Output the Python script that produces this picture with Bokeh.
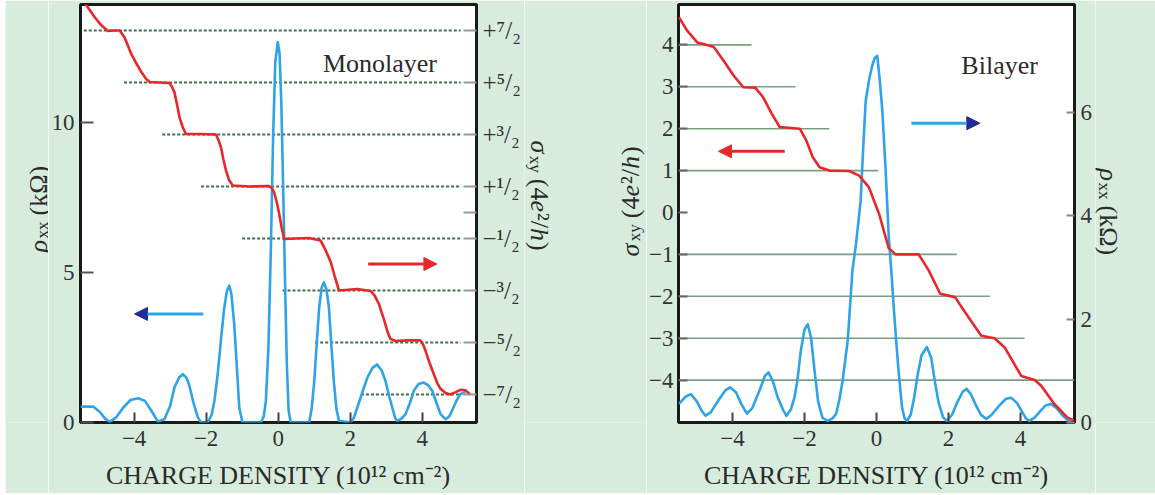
import math
from bokeh.plotting import figure
from bokeh.layouts import row
from bokeh.models import Range1d, LinearAxis, FixedTicker, Label, Arrow, NormalHead
from bokeh.embed import file_html
from bokeh.resources import INLINE

# ---------------- Monolayer ----------------
# rho_xx (kOhm) against carrier density n (10^12 cm^-2)
mono_n_rho = [-5.49, -5.14, -4.95, -4.80, -4.68, -4.50, -4.30, -4.10, -3.89, -3.70, -3.50, -3.34,
              -3.16, -3.00, -2.88, -2.75, -2.65, -2.55, -2.47, -2.35, -2.23, -2.14, -1.96, -1.85,
              -1.77, -1.68, -1.59, -1.50, -1.42, -1.36, -1.30, -1.22, -1.15, -1.08, -0.99, -0.48,
              -0.40, -0.34, -0.27, -0.20, -0.14, -0.08, -0.01, 0.04, 0.09, 0.14, 0.19, 0.24, 0.29,
              0.35, 0.86, 0.93, 1.00, 1.07, 1.14, 1.21, 1.27, 1.34, 1.41, 1.48, 1.55, 1.62, 1.69,
              2.01, 2.10, 2.20, 2.35, 2.48, 2.62, 2.75, 2.87, 2.98, 3.08, 3.17, 3.25, 3.31, 3.42,
              3.54, 3.66, 3.77, 3.90, 4.04, 4.16, 4.28, 4.40, 4.51, 4.65, 4.75, 4.83, 4.95, 5.06, 5.20]
mono_rho = [0.53, 0.53, 0.35, 0.12, 0.02, 0.17, 0.50, 0.75, 0.81, 0.72, 0.35, 0.03,
            0.11, 0.55, 1.17, 1.50, 1.61, 1.50, 1.25, 0.65, 0.17, 0.0, 0.0, 0.25,
            0.72, 1.60, 2.73, 3.80, 4.40, 4.56, 4.30, 3.28, 1.90, 0.50, 0.0, 0.0,
            0.20, 0.72, 2.50, 5.90, 9.50, 12.00, 12.68, 12.30, 10.60, 7.80, 4.80, 2.00, 0.40,
            0.0, 0.0, 0.45, 1.33, 2.60, 3.84, 4.50, 4.67, 4.45, 3.84, 2.55, 1.33, 0.45, 0.06,
            0.0, 0.15, 0.50, 1.05, 1.50, 1.82, 1.93, 1.75, 1.39, 0.90, 0.50, 0.15, 0.06, 0.12,
            0.28, 0.65, 1.06, 1.28, 1.33, 1.25, 1.06, 0.65, 0.28, 0.11, 0.20, 0.39, 0.72, 0.95, 1.00]

# sigma_xy (4e^2/h) against n
mono_n_sig = [-5.36, -5.20, -5.10, -4.91, -4.73, -4.55, -4.40, -4.27, -4.18, -4.08, -3.94, -3.80,
              -3.68, -3.57, -3.30, -3.02, -2.95, -2.88, -2.81, -2.74, -2.65, -2.56, -2.20, -1.73,
              -1.66, -1.59, -1.52, -1.45, -1.36, -1.26, -0.80, -0.25, -0.18, -0.11, -0.04, 0.03,
              0.10, 0.17, 0.50, 0.85, 1.18, 1.30, 1.46, 1.58, 1.69, 2.20, 2.57, 2.68, 2.80, 2.95,
              3.05, 3.12, 3.26, 3.60, 3.95, 4.02, 4.09, 4.20, 4.32, 4.42, 4.51, 4.65, 4.78, 4.92,
              5.06, 5.20, 5.34]
mono_sig = [4.02, 3.86, 3.76, 3.60, 3.49, 3.50, 3.50, 3.37, 3.22, 3.05, 2.87, 2.70,
            2.58, 2.51, 2.50, 2.49, 2.42, 2.31, 2.08, 1.83, 1.64, 1.51, 1.51, 1.50,
            1.40, 1.26, 1.02, 0.81, 0.62, 0.52, 0.50, 0.51, 0.47, 0.39, 0.20, -0.03,
            -0.30, -0.51, -0.50, -0.49, -0.54, -0.70, -0.95, -1.25, -1.50, -1.47, -1.51, -1.60, -1.76, -2.08,
            -2.32, -2.43, -2.47, -2.46, -2.46, -2.53, -2.65, -2.88, -3.10, -3.28, -3.39, -3.47, -3.50, -3.46,
            -3.41, -3.42, -3.50]

mono_levels = [3.5, 2.5, 1.5, 0.5, -0.5, -1.5, -2.5, -3.5]
mono_level_start = [-5.40, -4.28, -3.22, -2.14, -1.00, 0.12, 1.03, 2.30]
mono_level_end = [5.07] * 8

mono_rho_ticks = [0, 5, 10]
mono_rho_labels = ["0", "5", "10"]
mono_sig_ticks = [3.5, 2.5, 1.5, 0.5, 0, -0.5, -1.5, -2.5, -3.5]
mono_sig_labels = ["+⁷/₂", "+⁵/₂", "+³/₂", "+¹/₂", "", "−¹/₂", "−³/₂", "−⁵/₂", "−⁷/₂"]

# ---------------- Bilayer ----------------
bi_n_rho = [-5.49, -5.30, -5.16, -5.00, -4.85, -4.75, -4.60, -4.40, -4.20, -4.06, -3.90, -3.75,
            -3.60, -3.45, -3.25, -3.10, -3.00, -2.88, -2.75, -2.60, -2.50, -2.38, -2.28, -2.20,
            -2.10, -2.00, -1.91, -1.82, -1.72, -1.62, -1.50, -1.36, -1.22, -1.12, -1.03, -0.94,
            -0.87, -0.80, -0.73, -0.67, -0.57, -0.50, -0.44, -0.37, -0.30, -0.20, -0.12, -0.05,
            0.02, 0.08, 0.16, 0.25, 0.34, 0.42, 0.48, 0.55, 0.62, 0.71, 0.78, 0.85, 0.95, 1.05,
            1.15, 1.25, 1.40, 1.52, 1.62, 1.72, 1.85, 1.95, 2.10, 2.25, 2.40, 2.50, 2.62, 2.75,
            2.90, 3.05, 3.20, 3.40, 3.60, 3.74, 3.90, 4.05, 4.15, 4.25, 4.40, 4.55, 4.70, 4.84,
            5.00, 5.15, 5.30, 5.40]
bi_rho = [0.36, 0.50, 0.55, 0.42, 0.22, 0.13, 0.20, 0.42, 0.62, 0.68, 0.58, 0.35,
          0.17, 0.28, 0.62, 0.90, 0.97, 0.80, 0.50, 0.25, 0.13, 0.25, 0.48, 0.80,
          1.40, 1.80, 1.90, 1.65, 1.00, 0.40, 0.09, 0.03, 0.08, 0.17, 0.45, 0.81,
          1.20, 1.58, 2.30, 2.93, 3.45, 3.90, 4.29, 5.30, 6.22, 6.65, 6.90, 7.05,
          7.09, 6.70, 6.05, 4.93, 3.60, 2.85, 2.22, 1.55, 0.94, 0.29, 0.08, 0.03, 0.15, 0.50,
          0.95, 1.30, 1.46, 1.25, 0.80, 0.40, 0.10, 0.03, 0.15, 0.40, 0.60, 0.65, 0.55, 0.35,
          0.15, 0.07, 0.15, 0.32, 0.46, 0.48, 0.38, 0.20, 0.08, 0.03, 0.10, 0.22, 0.33, 0.36,
          0.28, 0.15, 0.05, 0.03]

bi_n_sig = [-5.49, -5.26, -4.98, -4.80, -4.52, -4.25, -3.97, -3.70, -3.37, -3.15, -2.91, -2.69,
            -2.13, -1.95, -1.77, -1.58, -1.31, -0.76, -0.48, -0.21, 0.07, 0.34, 0.53, 1.17,
            1.45, 1.77, 2.18, 2.46, 2.91, 3.28, 3.56, 4.02, 4.39, 4.57, 4.94, 5.30, 5.48]
bi_sig = [4.66, 4.34, 4.06, 4.02, 3.95, 3.63, 3.27, 2.99, 2.98, 2.75, 2.36, 2.04,
          2.00, 1.72, 1.32, 1.08, 1.00, 0.99, 0.88, 0.60, -0.03, -0.85, -1.00, -1.00,
          -1.38, -1.94, -2.02, -2.38, -2.94, -3.00, -3.22, -3.90, -4.00, -4.13, -4.57, -4.89, -4.96]

bi_levels = [4, 3, 2, 1, -1, -2, -3, -4]
bi_level_start = [-5.5] * 8
bi_level_end = [-3.47, -2.25, -1.31, 0.05, 2.23, 3.15, 4.11, 5.5]

bi_sig_ticks = [4, 3, 2, 1, 0, -1, -2, -3, -4]
bi_sig_labels = ["4", "3", "2", "1", "0", "−1", "−2", "−3", "−4"]
bi_rho_ticks = [0, 2, 4, 6]
bi_rho_labels = ["0", "2", "4", "6"]

n_ticks = [-4, -2, 0, 2, 4]
n_labels = ["−4", "−2", "0", "2", "4"]
n_title = "CHARGE DENSITY (10¹² cm⁻²)"

# ---------------- styling ----------------
BG = "#d7ecdd"
RED = "#e8272b"
BLUE = "#2ea3e6"
NAVY = "#1f2c99"
DASH_GREEN = "#3f6e4a"
LINE_GREEN = "#789f80"
INK = "#2a2a2a"
SERIF = "Liberation Serif"
H = 493                    # height of the green panel

TOP, BOT = 4, 422          # frame top/bottom (page px)
L_X0, L_X1 = 79, 476       # monolayer frame left/right
R_X0, R_X1 = 678, 1077     # bilayer frame left/right
L_XR = (-5.49, 5.51)
R_XR = (-5.5, 5.5)
L_RHO = (0.0, (BOT - TOP) / 30.0)
L_SIG = ((212 - BOT) / 52.0, (212 - TOP) / 52.0)
R_SIG = ((212 - BOT) / 41.9, (212 - TOP) / 41.9)
R_RHO = (0.0, (BOT - TOP) / 51.7)

# column boundaries of the row (page px)
C0, C1, C2, C3, C4, C5 = 5, 48, 524, 646, 1095, 1155


def px_to_data(px, py, x0, x1, xr, yr):
    x = xr[0] + (px - x0) * (xr[1] - xr[0]) / (x1 - x0)
    y = yr[0] + (BOT - py) * (yr[1] - yr[0]) / (BOT - TOP)
    return x, y


def style_axis(ax, ticks, labels, tick_in, tick_color, size="23px", standoff=6):
    ax.ticker = FixedTicker(ticks=ticks)
    ax.major_label_overrides = {float(t): l for t, l in zip(ticks, labels)}
    ax.axis_line_color = None
    ax.major_tick_in = tick_in
    ax.major_tick_out = 0
    ax.major_tick_line_color = tick_color
    ax.major_tick_line_width = 2
    ax.minor_tick_line_color = None
    ax.major_label_text_font = SERIF
    ax.major_label_text_font_size = size
    ax.major_label_text_color = "#333333"
    ax.major_label_standoff = standoff


def style_xaxis(ax):
    style_axis(ax, n_ticks, n_labels, 10, "#444444", standoff=8)
    ax.axis_label = n_title
    ax.axis_label_text_font = SERIF
    ax.axis_label_text_font_size = "26px"
    ax.axis_label_text_font_style = "normal"
    ax.axis_label_text_color = INK
    ax.axis_label_standoff = 12


# advance widths (em) for the serif face
W = {"(": .333, ")": .333, "4": .5, "k": .5, "Ω": .768, "/": .278, "²": .3,
     "x": .5, "y": .5, "h": .5, "e": .444, "ρ": .5, "σ": .55}


def rich_text(fig, pieces, px, py, upward):
    """Lay out rotated pieces (text, size, italic, rise, gap) one after another."""
    adv = 0.0
    angle = math.pi / 2 if upward else -math.pi / 2
    for text, size, italic, rise, gap in pieces:
        adv += gap
        if upward:
            sx, sy = px - rise, py - adv
        else:
            sx, sy = px + rise, py + adv
        fig.add_layout(Label(x=sx, y=-sy, text=text, angle=angle, text_font=SERIF,
                             text_font_size=f"{size}px",
                             text_font_style="italic" if italic else "normal",
                             text_color=INK, text_align="left", text_baseline="alphabetic"))
        adv += sum(W.get(c, .5) for c in text) * size


def text_panel(x0, x1, margin=(0, 0, 0, 0)):
    """A bare green strip; the row aligns its frame with the plot frames,
    so x is page pixels and y is minus the page pixel row."""
    t = figure(width=x1 - x0, height=H, x_range=Range1d(x0, x1), y_range=Range1d(-BOT, -TOP),
               output_backend="svg", toolbar_location=None, x_axis_type=None,
               y_axis_type=None, min_border_left=0, min_border_right=0, min_border_top=TOP,
               min_border_bottom=H - BOT, margin=margin)
    t.background_fill_color = BG
    t.border_fill_color = BG
    t.outline_line_color = None
    return t


def base_figure(x0, x1, fx0, fx1, xr, yr):
    p = figure(width=x1 - x0, height=H, x_range=Range1d(*xr), y_range=Range1d(*yr),
               output_backend="svg", toolbar_location=None,
               min_border_left=fx0 - x0, min_border_right=x1 - fx1, min_border_top=TOP,
               min_border_bottom=H - BOT)
    p.background_fill_color = "white"
    p.border_fill_color = BG
    p.outline_line_color = "#1a1a1a"
    p.outline_line_width = 3
    p.grid.visible = False
    return p


SIGMA_PIECES = [("σ", 26, True, 0, 0), ("xy", 17, False, -4, 1), ("(4", 26, False, 0, 6),
                ("e", 26, True, 0, 0), ("²", 26, False, 0, 1), ("/", 26, False, 0, 0),
                ("h", 26, True, 0, 0), (")", 26, False, 0, 1)]
RHO_PIECES = [("ρ", 26, True, 0, 0), ("xx", 17, False, -4, 1), ("(kΩ)", 26, False, 0, 6)]

# ---------------- monolayer panel ----------------
p1 = base_figure(C1, C2, L_X0, L_X1, L_XR, L_RHO)
p1.extra_y_ranges = {"sig": Range1d(*L_SIG)}
style_xaxis(p1.xaxis[0])
style_axis(p1.yaxis[0], mono_rho_ticks, mono_rho_labels, 13, "#555555")
ax_r1 = LinearAxis(y_range_name="sig")
style_axis(ax_r1, mono_sig_ticks, mono_sig_labels, 13, "#9a9a9a", size="25px")
p1.add_layout(ax_r1, "right")

p1.segment(x0=mono_level_start, y0=mono_levels, x1=mono_level_end, y1=mono_levels,
           y_range_name="sig", line_color=DASH_GREEN, line_width=2, line_dash="3 2")
p1.line(mono_n_rho, mono_rho, line_color=BLUE, line_width=2.6, line_join="round")
p1.line(mono_n_sig, mono_sig, y_range_name="sig", line_color=RED, line_width=2.6,
        line_join="round")

p1.add_layout(Arrow(end=NormalHead(size=13, fill_color=NAVY, line_color=NAVY),
                    x_start=-2.08, y_start=3.62, x_end=-3.99, y_end=3.62,
                    line_color=BLUE, line_width=3))
p1.add_layout(Arrow(end=NormalHead(size=13, fill_color=RED, line_color=RED),
                    x_start=2.50, y_start=-0.99, x_end=4.41, y_end=-0.99,
                    y_range_name="sig", line_color=RED, line_width=3))

x, y = px_to_data(322, 63, L_X0, L_X1, L_XR, L_RHO)
p1.add_layout(Label(x=x, y=y, text="Monolayer", text_font=SERIF, text_font_size="26px",
                    text_color=INK, text_baseline="alphabetic"))

# ---------------- bilayer panel ----------------
p2 = base_figure(C3, C4, R_X0, R_X1, R_XR, R_SIG)
p2.extra_y_ranges = {"rho": Range1d(*R_RHO)}
style_xaxis(p2.xaxis[0])
style_axis(p2.yaxis[0], bi_sig_ticks, bi_sig_labels, 9, "#666666", standoff=5)
ax_r2 = LinearAxis(y_range_name="rho")
style_axis(ax_r2, bi_rho_ticks, bi_rho_labels, 8, "#888888")
p2.add_layout(ax_r2, "right")

p2.segment(x0=bi_level_start, y0=bi_levels, x1=bi_level_end, y1=bi_levels,
           line_color=LINE_GREEN, line_width=1.6)
p2.line(bi_n_rho, bi_rho, y_range_name="rho", line_color=BLUE, line_width=2.6,
        line_join="round")
p2.line(bi_n_sig, bi_sig, line_color=RED, line_width=2.6, line_join="round")

p2.add_layout(Arrow(end=NormalHead(size=13, fill_color=RED, line_color=RED),
                    x_start=-2.55, y_start=1.46, x_end=-4.39, y_end=1.46,
                    line_color=RED, line_width=3))
p2.add_layout(Arrow(end=NormalHead(size=13, fill_color=NAVY, line_color=NAVY),
                    x_start=0.97, y_start=5.79, x_end=2.87, y_end=5.79,
                    y_range_name="rho", line_color=BLUE, line_width=3))

x, y = px_to_data(963, 65, R_X0, R_X1, R_XR, R_SIG)
p2.add_layout(Label(x=x, y=y, text="Bilayer", text_font=SERIF, text_font_size="26px",
                    text_color=INK, text_baseline="alphabetic"))

# ---------------- rotated axis titles ----------------
t1 = text_panel(C0, C1, margin=(0, 0, 0, C0))
rich_text(t1, RHO_PIECES, 38, 252, True)

t2 = text_panel(C2, C3)
rich_text(t2, SIGMA_PIECES, 539, 140, False)
rich_text(t2, SIGMA_PIECES, 630, 256, True)

t3 = text_panel(C4, C5)
rich_text(t3, RHO_PIECES, 1108, 168, False)

layout = row(t1, p1, t2, p2, t3)
open("out.html", "w").write(file_html(layout, INLINE))
